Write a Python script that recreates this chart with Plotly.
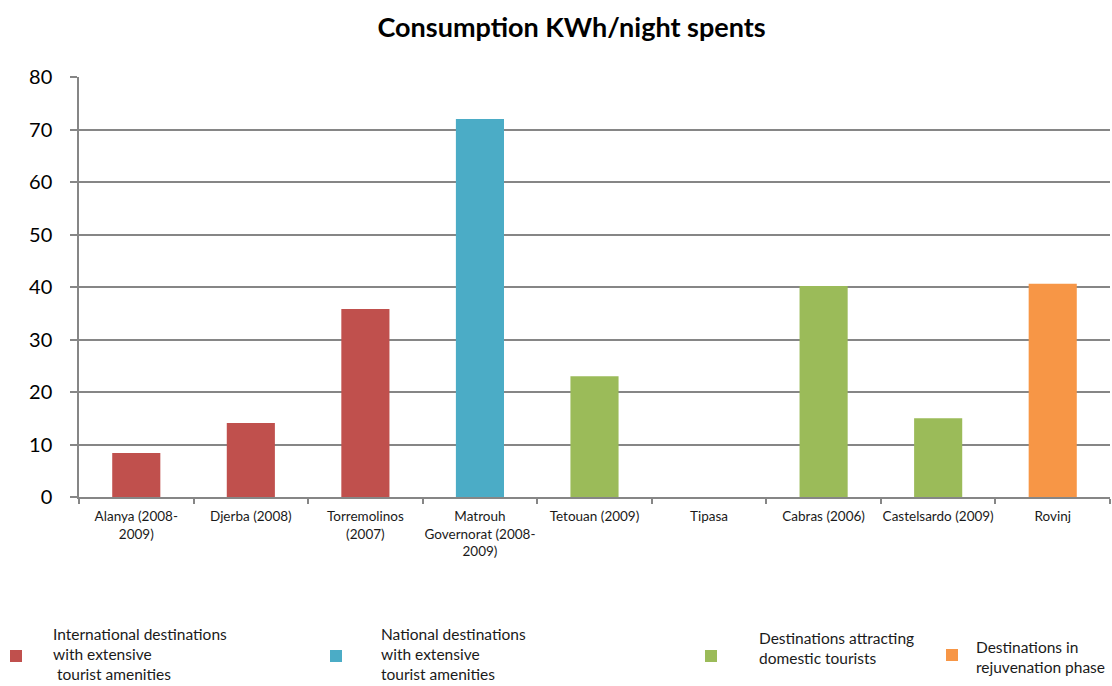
import plotly.graph_objects as go

# Destinations and energy use per night spent
destinations = [
    "Alanya (2008-<br>2009)",
    "Djerba (2008)",
    "Torremolinos<br>(2007)",
    "Matrouh<br>Governorat (2008-<br>2009)",
    "Tetouan (2009)",
    "Tipasa",
    "Cabras (2006)",
    "Castelsardo (2009)",
    "Rovinj",
]
kwh_per_night = [8.4, 14.1, 35.8, 72.0, 23.0, None, 40.2, 15.0, 40.6]
group_of = [0, 0, 0, 1, 2, 2, 2, 2, 3]

# Destination groups
group_labels = [
    "International destinations<br>with extensive<br> tourist amenities",
    "National destinations<br>with extensive<br>tourist amenities",
    "Destinations attracting<br>domestic tourists",
    "Destinations in<br>rejuvenation phase",
]
group_colors = ["#C0504D", "#4BACC6", "#9BBB59", "#F79646"]

FONT = "Lato, 'Open Sans', sans-serif"
GRID = "#868686"

fig = go.Figure()
fig.add_trace(go.Bar(
    x=destinations,
    y=kwh_per_night,
    marker=dict(color=[group_colors[g] for g in group_of], line=dict(width=0)),
    width=0.42,
    showlegend=False,
    hoverinfo="x+y",
))

# Hand-placed legend: colour square plus multi-line label for each group
legend_square_x = [10, 330, 705, 946]
legend_square_y = [656, 656, 656, 655]
legend_text_x = [51, 379, 757, 974]
legend_text_y = [654, 654, 648, 657]
W, H = 1112, 686
for i, label in enumerate(group_labels):
    sx, sy = legend_square_x[i], legend_square_y[i]
    fig.add_shape(
        type="rect", xref="paper", yref="paper",
        x0=(sx - 79) / (W - 81), x1=(sx + 12 - 79) / (W - 81),
        y0=(497 - sy - 6) / 420, y1=(497 - sy + 6) / 420,
        fillcolor=group_colors[i], line=dict(width=0),
    )
    fig.add_annotation(
        xref="paper", yref="paper",
        x=(legend_text_x[i] - 79) / (W - 81), y=(497 - legend_text_y[i]) / 420,
        xanchor="left", yanchor="middle", align="left",
        text=label, showarrow=False,
        font=dict(family=FONT, size=15.5, color="#1a1a1a"),
    )

fig.update_layout(
    width=W, height=H,
    margin=dict(l=79, r=2, t=77, b=189),
    paper_bgcolor="white", plot_bgcolor="white",
    title=dict(
        text="<b>Consumption KWh/night spents</b>",
        x=0.514, xanchor="center", y=0.96, yanchor="middle",
        font=dict(family=FONT, size=27, color="#000000"),
    ),
    bargap=0.58,
    xaxis=dict(
        type="category",
        tickson="boundaries", ticks="outside", ticklen=5, tickcolor=GRID, tickwidth=1.5,
        showline=True, linecolor=GRID, linewidth=1.5,
        showgrid=False,
        ticklabelstandoff=6,
        tickfont=dict(family=FONT, size=13.5, color="#1a1a1a"),
        tickangle=0,
    ),
    yaxis=dict(
        range=[0, 80], dtick=10,
        showgrid=True, gridcolor=GRID, gridwidth=1.5,
        showline=True, linecolor=GRID, linewidth=1.5,
        ticks="outside", ticklen=7, tickcolor=GRID, tickwidth=1.5,
        ticklabelstandoff=14,
        zeroline=False,
        tickfont=dict(family=FONT, size=20, color="#000000"),
    ),
)

fig.write_html("out.html")
